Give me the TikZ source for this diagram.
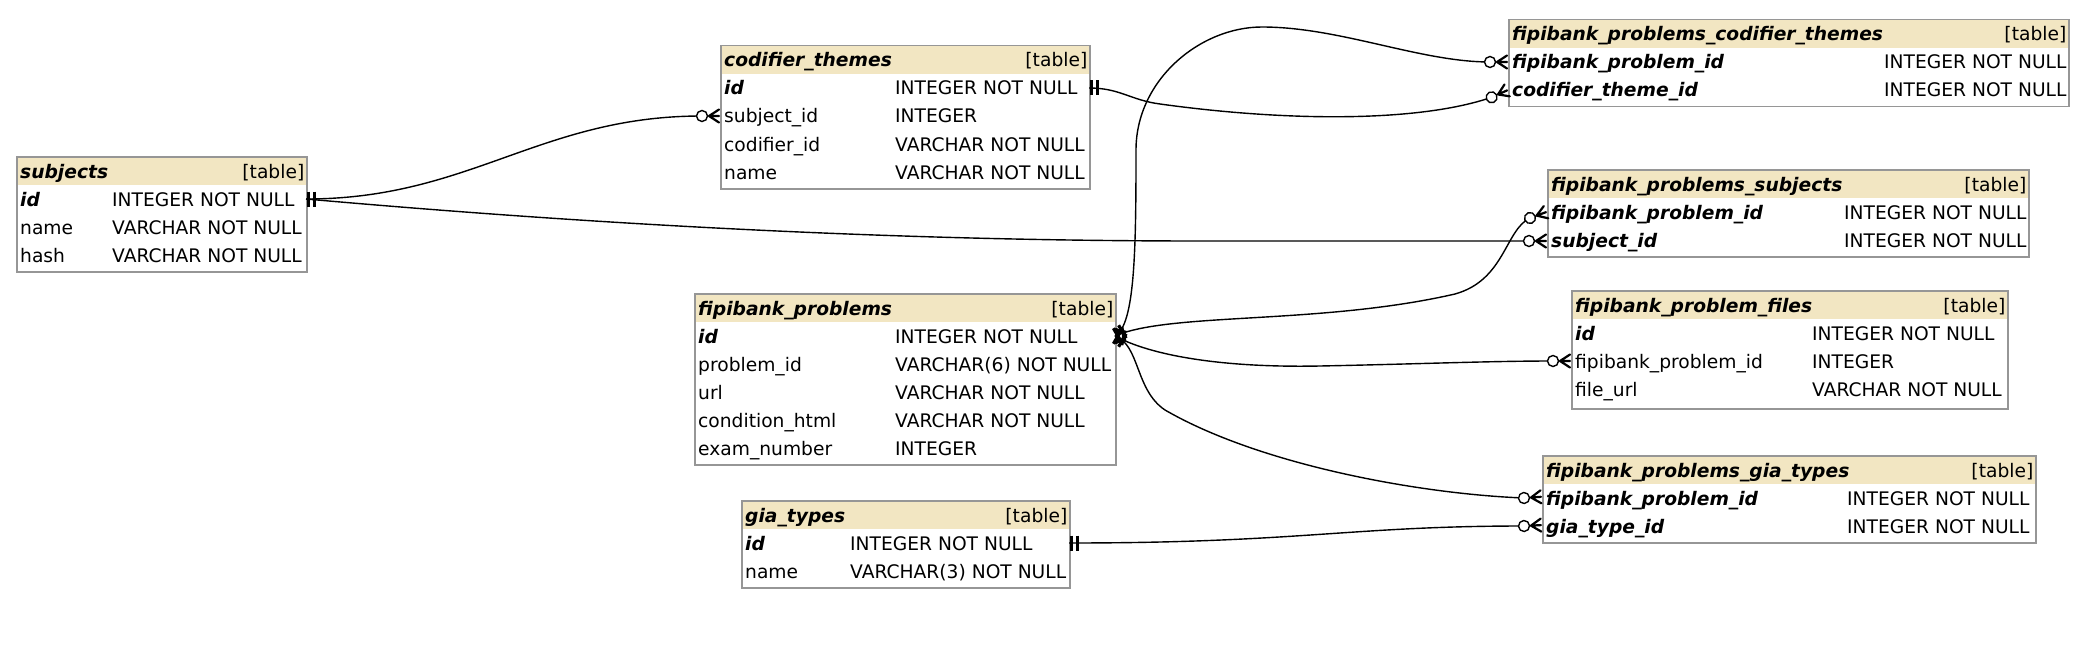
\documentclass[tikz,border=0pt]{standalone}
\usepackage{fontspec}
\setmainfont{DejaVu Sans}
\definecolor{hdrfill}{RGB}{242,230,194}
\definecolor{tblline}{RGB}{150,150,150}
\begin{document}
\begin{tikzpicture}[x=1pt,y=-1pt,
  font=\fontsize{18.67}{22}\selectfont,
  tblbox/.style={draw=tblline, line width=1.5pt, fill=white, inner sep=0pt, anchor=north west},
  hdr/.style={fill=hdrfill},
  txt/.style={anchor=base west, inner sep=0pt},
  keytxt/.style={anchor=base west, inner sep=0pt, font=\fontsize{18.67}{22}\selectfont\bfseries\itshape},
  tagtxt/.style={anchor=base east, inner sep=0pt},
  edge/.style={draw=black, line width=1.4pt},
  one/.pic={\draw[line width=3.2pt] (2.5,-7.5)--(2.5,7.5) (8.5,-7.5)--(8.5,7.5);},
  many/.pic={\draw[line width=2.2pt, line cap=round] (7,0)--(17,6.5) (7,0)--(17,0) (7,0)--(17,-6.5);
             \draw[line width=1.4pt, fill=white] (0,0) circle (5.5pt);}
]
\useasboundingbox (0,0) rectangle (2085,666);
\fill[white] (0,0) rectangle (2085,666);

% ---------- helper: table frame and header ----------
\newcommand{\ertable}[6]{% id, x, y, w, h, title
  \node[tblbox, minimum width=#4pt, minimum height=#5pt] (#1) at (#2,#3) {};
  \fill[hdr] ([shift={(1.5pt,-1.5pt)}]#1.north west) rectangle ([shift={(-1.5pt,-29pt)}]#1.north east);
  \node[keytxt] (#1-title) at ([shift={(4pt,-22pt)}]#1.north west) {#6};
  \node[tagtxt] (#1-tag) at ([shift={(-3pt,-22pt)}]#1.north east) {[table]};
}

% ---------- subjects ----------
\ertable{subjects}{16}{156}{290}{115}{subjects}
\node[keytxt] (subjects-n1) at (20,206) {id};
\node[txt] (subjects-t1) at (112,206) {INTEGER NOT NULL};
\node[txt] (subjects-n2) at (20,234) {name};
\node[txt] (subjects-t2) at (112,234) {VARCHAR NOT NULL};
\node[txt] (subjects-n3) at (20,262) {hash};
\node[txt] (subjects-t3) at (112,262) {VARCHAR NOT NULL};

% ---------- codifier_themes ----------
\ertable{ct}{720}{45}{369}{143}{codifier\_themes}
\node[keytxt] (ct-n1) at (724,95) {id};
\node[txt] (ct-t1) at (895,95) {INTEGER NOT NULL};
\node[txt] (ct-n2) at (724,123) {subject\_id};
\node[txt] (ct-t2) at (895,123) {INTEGER};
\node[txt] (ct-n3) at (724,151) {codifier\_id};
\node[txt] (ct-t3) at (895,151) {VARCHAR NOT NULL};
\node[txt] (ct-n4) at (724,179) {name};
\node[txt] (ct-t4) at (895,179) {VARCHAR NOT NULL};

% ---------- fipibank_problems ----------
\ertable{fp}{694}{293}{421}{171}{fipibank\_problems}
\node[keytxt] (fp-n1) at (698,343) {id};
\node[txt] (fp-t1) at (895,343) {INTEGER NOT NULL};
\node[txt] (fp-n2) at (698,371) {problem\_id};
\node[txt] (fp-t2) at (895,371) {VARCHAR(6) NOT NULL};
\node[txt] (fp-n3) at (698,399) {url};
\node[txt] (fp-t3) at (895,399) {VARCHAR NOT NULL};
\node[txt] (fp-n4) at (698,427) {condition\_html};
\node[txt] (fp-t4) at (895,427) {VARCHAR NOT NULL};
\node[txt] (fp-n5) at (698,455) {exam\_number};
\node[txt] (fp-t5) at (895,455) {INTEGER};

% ---------- gia_types ----------
\ertable{gt}{741}{500}{328}{87}{gia\_types}
\node[keytxt] (gt-n1) at (745,550) {id};
\node[txt] (gt-t1) at (850,550) {INTEGER NOT NULL};
\node[txt] (gt-n2) at (745,578) {name};
\node[txt] (gt-t2) at (850,578) {VARCHAR(3) NOT NULL};

% ---------- fipibank_problems_codifier_themes ----------
\ertable{fpct}{1508}{19}{560}{87}{fipibank\_problems\_codifier\_themes}
\node[keytxt] (fpct-n1) at (1512,69) {fipibank\_problem\_id};
\node[txt] (fpct-t1) at (1884,69) {INTEGER NOT NULL};
\node[keytxt] (fpct-n2) at (1512,97) {codifier\_theme\_id};
\node[txt] (fpct-t2) at (1884,97) {INTEGER NOT NULL};

% ---------- fipibank_problems_subjects ----------
\ertable{fps}{1547}{169}{481}{87}{fipibank\_problems\_subjects}
\node[keytxt] (fps-n1) at (1551,219) {fipibank\_problem\_id};
\node[txt] (fps-t1) at (1844,219) {INTEGER NOT NULL};
\node[keytxt] (fps-n2) at (1551,247) {subject\_id};
\node[txt] (fps-t2) at (1844,247) {INTEGER NOT NULL};

% ---------- fipibank_problem_files ----------
\ertable{fpf}{1571}{290}{436}{118}{fipibank\_problem\_files}
\node[keytxt] (fpf-n1) at (1575,340) {id};
\node[txt] (fpf-t1) at (1812,340) {INTEGER NOT NULL};
\node[txt] (fpf-n2) at (1575,368) {fipibank\_problem\_id};
\node[txt] (fpf-t2) at (1812,368) {INTEGER};
\node[txt] (fpf-n3) at (1575,396) {file\_url};
\node[txt] (fpf-t3) at (1812,396) {VARCHAR NOT NULL};

% ---------- fipibank_problems_gia_types ----------
\ertable{fpgt}{1542}{455}{493}{87}{fipibank\_problems\_gia\_types}
\node[keytxt] (fpgt-n1) at (1546,505) {fipibank\_problem\_id};
\node[txt] (fpgt-t1) at (1847,505) {INTEGER NOT NULL};
\node[keytxt] (fpgt-n2) at (1546,533) {gia\_type\_id};
\node[txt] (fpgt-t2) at (1847,533) {INTEGER NOT NULL};

% ---------- connector end points ----------
\coordinate (s-subjects) at (306,199);
\coordinate (s-ct) at (1089,88);
\coordinate (s-fp) at (1115,336);
\coordinate (s-gt) at (1069,543);

\coordinate (e-ct-subj) at (702,116);
\coordinate (e-fps-subj) at (1529,241);
\coordinate (e-fpct-ct) at (1491.6,97.3);
\coordinate (e-fpct-fp) at (1490,62);
\coordinate (e-fps-fp) at (1530,218);
\coordinate (e-fpf-fp) at (1553,361);
\coordinate (e-fpgt-fp) at (1524,498);
\coordinate (e-fpgt-gt) at (1524,526);

% ---------- connectors ----------
\draw[edge] (s-subjects) .. controls (470,199) and (540,116) .. (e-ct-subj);
\draw[edge] (s-subjects) .. controls (600,225) and (900,241) .. (1200,241) -- (e-fps-subj);
\draw[edge] (s-ct) .. controls (1120,88) and (1130,100) .. (1160,104)
   .. controls (1290,122) and (1420,122) .. (e-fpct-ct);
\draw[edge] (s-fp) .. controls (1135,325) and (1136,250) .. (1136,150)
   .. controls (1136,80) and (1200,27) .. (1262,27)
   .. controls (1340,27) and (1420,62) .. (e-fpct-fp);
\draw[edge] (s-fp) .. controls (1170,312) and (1320,325) .. (1455,294)
   .. controls (1505,280) and (1505,230) .. (e-fps-fp);
\draw[edge] (s-fp) .. controls (1150,355) and (1220,368) .. (1320,366)
   .. controls (1420,364) and (1490,361) .. (e-fpf-fp);
\draw[edge] (s-fp) .. controls (1140,345) and (1135,390) .. (1165,410)
   .. controls (1260,465) and (1420,494) .. (e-fpgt-fp);
\draw[edge] (s-gt) .. controls (1300,543) and (1350,526) .. (e-fpgt-gt);

% ---------- end marks ----------
\pic at (s-subjects) {one};
\pic at (s-ct) {one};
\pic at (s-gt) {one};
\pic[rotate=30] at (s-fp) {one};
\pic[rotate=12] at (s-fp) {one};
\pic[rotate=-12] at (s-fp) {one};
\pic[rotate=-30] at (s-fp) {one};

\pic at (e-ct-subj) {many};
\pic at (e-fps-subj) {many};
\pic[rotate=24] at (e-fpct-ct) {many};
\pic at (e-fpct-fp) {many};
\pic[rotate=20] at (e-fps-fp) {many};
\pic at (e-fpf-fp) {many};
\pic[rotate=4] at (e-fpgt-fp) {many};
\pic[rotate=3] at (e-fpgt-gt) {many};
\end{tikzpicture}
\end{document}
